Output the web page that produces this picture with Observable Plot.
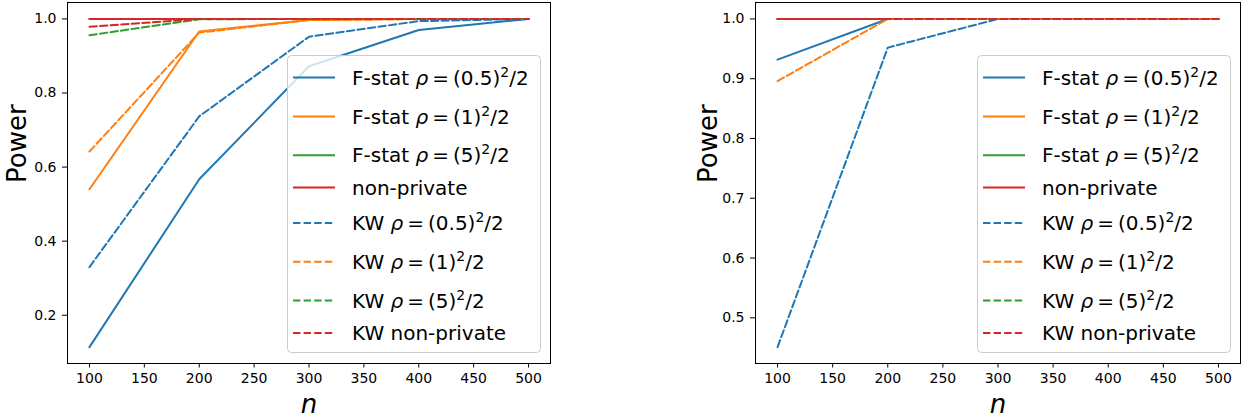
<!DOCTYPE html>
<html><head><meta charset="utf-8">
<script src="https://cdn.jsdelivr.net/npm/d3@7"></script>
<script src="https://cdn.jsdelivr.net/npm/@observablehq/plot@0.6"></script>
<style>
body{margin:0;background:#fff;}
#root{position:relative;width:1247px;height:417px;overflow:hidden;background:#fff;font-family:"DejaVu Sans";}
.panel{position:absolute;top:0;}
.legend{position:absolute;top:55px;}
svg.panel g[aria-label$="tick label"], svg.panel g[aria-label$="tick label"] text{font-size:14px;font-family:"DejaVu Sans";}
</style></head><body><div id="root"></div>
<script>
// ---- data ----
const nValues = [100, 200, 300, 400, 500];
const xTicks = [100, 150, 200, 250, 300, 350, 400, 450, 500];
const leftYTicks = [0.2, 0.4, 0.6, 0.8, 1.0];
const rightYTicks = [0.5, 0.6, 0.7, 0.8, 0.9, 1.0];

const legendPrefixes = ["F-stat", "F-stat", "F-stat", "non-private", "KW", "KW", "KW", "KW non-private"];
const legendRhoBases = ["0.5", "1", "5", null, "0.5", "1", "5", null];
const legendDashed = [false, false, false, false, true, true, true, true];
const seriesColorIndex = [0, 1, 2, 3, 0, 1, 2, 3];
const seriesColors = ["#1f77b4", "#ff7f0e", "#2ca02c", "#d62728"];

// left panel
const leftFstat05 = [0.114, 0.567, 0.872, 0.970, 1.0];
const leftFstat1 = [0.540, 0.966, 0.997, 1.0, 1.0];
const leftFstat5 = [1.0, 1.0, 1.0, 1.0, 1.0];
const leftNonPrivate = [1.0, 1.0, 1.0, 1.0, 1.0];
const leftKW05 = [0.330, 0.737, 0.952, 0.994, 1.0];
const leftKW1 = [0.642, 0.963, 0.997, 1.0, 1.0];
const leftKW5 = [0.956, 0.999, 1.0, 1.0, 1.0];
const leftKWNonPrivate = [0.979, 1.0, 1.0, 1.0, 1.0];

// right panel
const rightFstat05 = [0.932, 1.0, 1.0, 1.0, 1.0];
const rightFstat1 = [1.0, 1.0, 1.0, 1.0, 1.0];
const rightFstat5 = [1.0, 1.0, 1.0, 1.0, 1.0];
const rightNonPrivate = [1.0, 1.0, 1.0, 1.0, 1.0];
const rightKW05 = [0.451, 0.952, 1.0, 1.0, 1.0];
const rightKW1 = [0.896, 1.0, 1.0, 1.0, 1.0];
const rightKW5 = [1.0, 1.0, 1.0, 1.0, 1.0];
const rightKWNonPrivate = [1.0, 1.0, 1.0, 1.0, 1.0];

const leftSeries = [leftFstat05, leftFstat1, leftFstat5, leftNonPrivate, leftKW05, leftKW1, leftKW5, leftKWNonPrivate];
const rightSeries = [rightFstat05, rightFstat1, rightFstat5, rightNonPrivate, rightKW05, rightKW1, rightKW5, rightKWNonPrivate];

function tidy(seriesList, dashed) {
  const rows = [];
  seriesList.forEach((vals, s) => {
    if (legendDashed[s] !== dashed) return;
    vals.forEach((v, i) => rows.push({series: s, c: seriesColorIndex[s], n: nValues[i], power: v}));
  });
  return rows;
}

const root = document.getElementById("root");
const DASH = "7.4,3.2";
const LW = 2;

function panel({left, width, marginLeft, marginRight, yDomain, yTicks, seriesList, powerDx, legendLeft}) {
  const chart = Plot.plot({
    width, height: 417,
    marginTop: 2, marginBottom: 54, marginLeft, marginRight,
    style: {fontFamily: "DejaVu Sans", fontSize: "14px", color: "black", background: "transparent", overflow: "visible"},
    x: {domain: [80, 520]},
    y: {domain: yDomain},
    color: {type: "ordinal", domain: [0, 1, 2, 3], range: seriesColors},
    marks: [
      Plot.line(tidy(seriesList, false), {x: "n", y: "power", z: "series", stroke: "c", strokeWidth: LW}),
      Plot.line(tidy(seriesList, true), {x: "n", y: "power", z: "series", stroke: "c", strokeWidth: LW, strokeDasharray: DASH}),
      Plot.frame({stroke: "black", strokeWidth: 1}),
      Plot.axisX({ticks: xTicks, tickSize: 4.5, tickPadding: 5.5, label: null, fontSize: 14}),
      Plot.axisY({ticks: yTicks, tickFormat: d3.format(".1f"), tickSize: 5, tickPadding: 6, label: null, fontSize: 14}),
      Plot.text(["Power"], {frameAnchor: "left", text: d => d, rotate: -90, dx: powerDx, lineAnchor: "bottom", fontSize: 26, fill: "black"}),
      Plot.text(["n"], {frameAnchor: "bottom", text: d => d, dy: 49, lineAnchor: "bottom", fontSize: 26, fontStyle: "italic", fill: "black"})
    ]
  });
  chart.classList.add("panel");
  chart.style.left = left + "px";
  root.appendChild(chart);

  // legend overlay
  const lw = 254, lh = 298;
  const rowY = [22.5, 61.5, 100.3, 132.5, 168, 206.7, 245.5, 278];
  const svg = d3.select(root).append("svg").attr("class", "legend")
    .style("left", legendLeft + "px").attr("width", lw).attr("height", lh);
  svg.append("rect").attr("x", 0.5).attr("y", 0.5).attr("width", lw - 1).attr("height", lh - 1)
    .attr("rx", 4).attr("fill", "white").attr("fill-opacity", 0.8).attr("stroke", "#cccccc");
  legendPrefixes.forEach((p, i) => {
    const y = rowY[i];
    svg.append("line").attr("x1", 6).attr("x2", 48).attr("y1", y).attr("y2", y)
      .attr("stroke", seriesColors[seriesColorIndex[i]]).attr("stroke-width", LW)
      .attr("stroke-dasharray", legendDashed[i] ? DASH : null);
    const t = svg.append("text").attr("x", 65).attr("y", y + 7)
      .attr("font-family", "DejaVu Sans").attr("font-size", 20).attr("fill", "black");
    if (legendRhoBases[i] == null) {
      t.text(p);
    } else {
      t.append("tspan").text(p + " ");
      t.append("tspan").attr("font-style", "italic").text("ρ");
      t.append("tspan").text("\u2009=\u2009(" + legendRhoBases[i] + ")");
      t.append("tspan").attr("font-size", 14).attr("dy", -8).text("2");
      t.append("tspan").attr("dy", 8).text("/2");
    }
  });
}

panel({left: 0, width: 620, marginLeft: 67, marginRight: 70, yDomain: [0.0697, 1.0443], yTicks: leftYTicks,
       seriesList: leftSeries, powerDx: -42, legendLeft: 287});
panel({left: 620, width: 627, marginLeft: 135, marginRight: 7, yDomain: [0.4236, 1.0275], yTicks: rightYTicks,
       seriesList: rightSeries, powerDx: -39, legendLeft: 977});
</script>
</body></html>
